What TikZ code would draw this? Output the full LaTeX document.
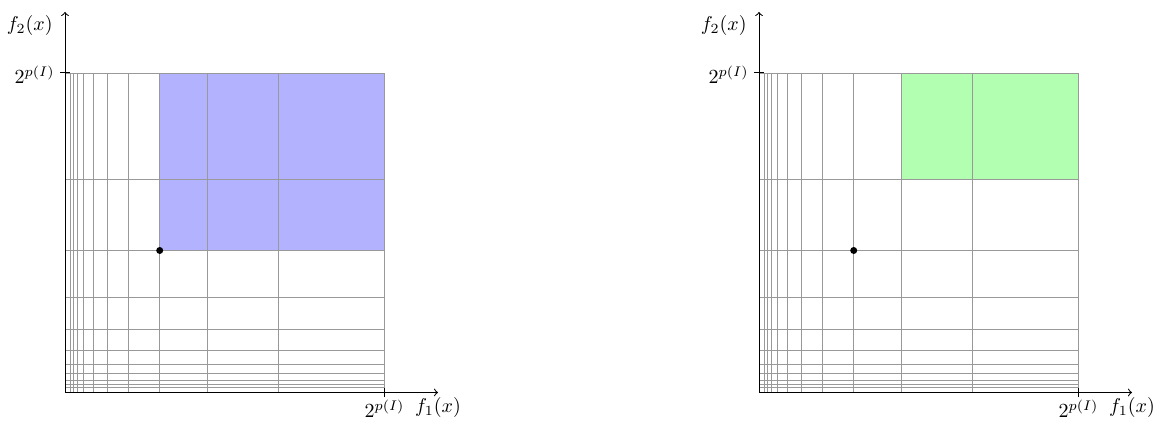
\documentclass[tikz,border=0pt]{standalone}
\begin{document}
\begin{tikzpicture}[x=0.5pt,y=0.5pt,
  gridline/.style={gray!80, line width=0.45pt},
  axisline/.style={->, line width=0.5pt},
  tickline/.style={line width=0.5pt},
  dotnode/.style={circle, fill=black, inner sep=0pt, minimum size=3.5pt},
  lbl/.style={inner sep=2.5pt}]
\useasboundingbox (0,0) rectangle (1159,421);
% ---------------- left panel ----------------
\begin{scope}[shift={(65,28.5)}]
  \coordinate (LO) at (0,0);
  \coordinate (LX) at (373,0);
  \coordinate (LY) at (0,380.5);
  \fill[blue!30] (94.7,142) rectangle (319.5,319.5);
  \foreach \k in {0,...,10}{
    \pgfmathsetmacro{\v}{319.5*(2/3)^\k}
    \draw[gridline] (\v,0) -- (\v,319.5);
    \draw[gridline] (0,\v) -- (319.5,\v);
  }
  \draw[axisline] (LO) -- (LX);
  \draw[axisline] (LO) -- (LY);
  \coordinate (LXT) at (319.5,0);
  \coordinate (LYT) at (0,319.5);
  \draw[tickline] ([yshift=-2.3pt]LXT) -- ([yshift=2.3pt]LXT);
  \draw[tickline] ([xshift=-2.5pt]LYT) -- ([xshift=2.5pt]LYT);
  \node[lbl, anchor=north] (LXL) at ([yshift=-1pt]LXT) {$2^{p(I)}$};
  \node[lbl, anchor=east] (LYL) at ([xshift=-2.5pt,yshift=-1pt]LYT) {$2^{p(I)}$};
  \node[lbl, anchor=north] (LF1) at (LX) {$f_1(x)$};
  \node[lbl, anchor=east] (LF2) at ([xshift=-3.5pt,yshift=-7pt]LY) {$f_2(x)$};
  \node[dotnode] (LD) at (94.7,142) {};
\end{scope}
% ---------------- right panel ----------------
\begin{scope}[shift={(759,28.5)}]
  \coordinate (RO) at (0,0);
  \coordinate (RX) at (373,0);
  \coordinate (RY) at (0,380.5);
  \fill[green!30] (142,213) rectangle (319.5,319.5);
  \foreach \k in {0,...,10}{
    \pgfmathsetmacro{\v}{319.5*(2/3)^\k}
    \draw[gridline] (\v,0) -- (\v,319.5);
    \draw[gridline] (0,\v) -- (319.5,\v);
  }
  \draw[axisline] (RO) -- (RX);
  \draw[axisline] (RO) -- (RY);
  \coordinate (RXT) at (319.5,0);
  \coordinate (RYT) at (0,319.5);
  \draw[tickline] ([yshift=-2.3pt]RXT) -- ([yshift=2.3pt]RXT);
  \draw[tickline] ([xshift=-2.5pt]RYT) -- ([xshift=2.5pt]RYT);
  \node[lbl, anchor=north] (RXL) at ([yshift=-1pt]RXT) {$2^{p(I)}$};
  \node[lbl, anchor=east] (RYL) at ([xshift=-2.5pt,yshift=-1pt]RYT) {$2^{p(I)}$};
  \node[lbl, anchor=north] (RF1) at (RX) {$f_1(x)$};
  \node[lbl, anchor=east] (RF2) at ([xshift=-3.5pt,yshift=-7pt]RY) {$f_2(x)$};
  \node[dotnode] (RD) at (94.7,142) {};
\end{scope}
\end{tikzpicture}
\end{document}
